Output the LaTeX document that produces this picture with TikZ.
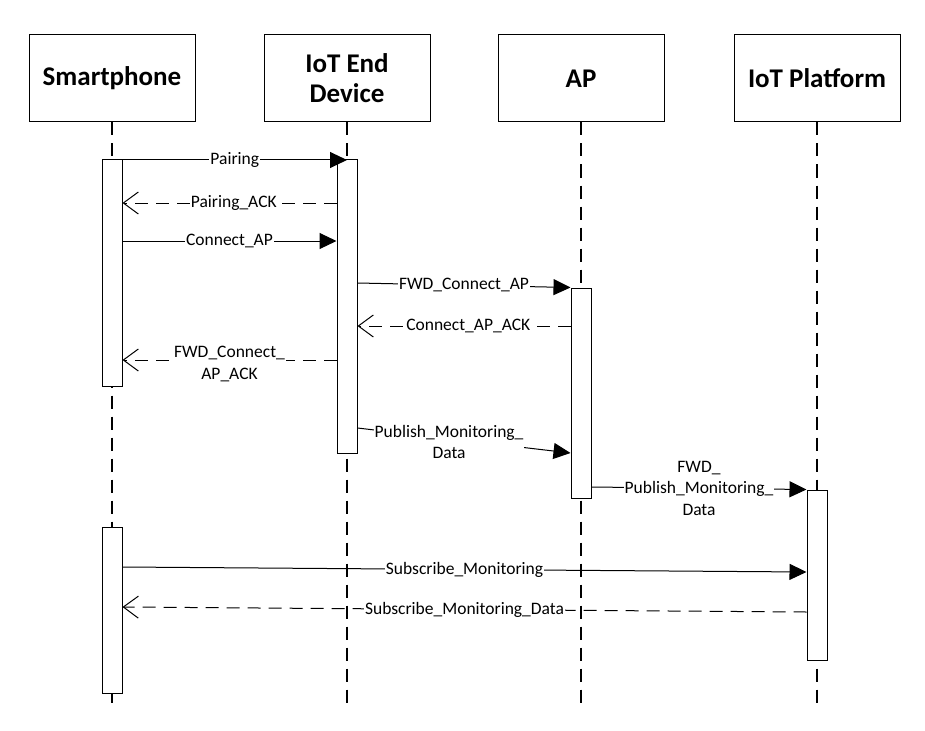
\documentclass[tikz,border=0pt]{standalone}
\usepackage{fontspec}
\setmainfont{Carlito}
\usepackage{tikz}
\usetikzlibrary{arrows.meta}

\begin{document}
\begin{tikzpicture}[
    x=1pt, y=-1pt, line width=1pt,
    actor/.style={draw, line width=1pt, minimum width=166pt, minimum height=87pt,
                  align=center, font=\fontsize{27}{30}\selectfont\bfseries},
    life/.style={dash pattern=on 13pt off 8pt, line width=1.2pt},
    bar/.style={draw, fill=white, minimum width=20pt, inner sep=0pt},
    lbl/.style={fill=white, inner sep=1pt, align=center,
                font=\fontsize{17.5}{21.5}\selectfont},
    msg/.style={-{Triangle[length=17pt, width=16pt]}},
    reply/.style={dash pattern=on 13pt off 8pt, -{Straight Barb[length=15pt, width=22pt]}}
  ]
  \useasboundingbox (0,0) rectangle (925,730);

  % lifeline heads
  \node[actor] (phone)  at (112,78.5) {Smartphone};
  \node[actor] (dev)    at (347,78.5) {IoT End\\Device};
  \node[actor] (ap)     at (581,78.5) {AP};
  \node[actor] (cloud)  at (817,78.5) {IoT Platform};

  \coordinate (phoneEnd) at (112,705);
  \coordinate (devEnd)   at (347,705);
  \coordinate (apEnd)    at (581,705);
  \coordinate (cloudEnd) at (817,705);

  \draw[life] (phone) -- (phoneEnd);
  \draw[life] (dev)   -- (devEnd);
  \draw[life] (ap)    -- (apEnd);
  \draw[life] (cloud) -- (cloudEnd);

  % activations
  \node[bar, minimum height=226pt] (barP) at (112,273)   {};
  \node[bar, minimum height=293pt] (barD) at (347,306.5) {};
  \node[bar, minimum height=210pt] (barA) at (581,393)   {};
  \node[bar, minimum height=170pt] (barC) at (817,575)   {};
  \node[bar, minimum height=166pt] (barQ) at (112,610)   {};

  % messages
  \draw[msg]   (barP.east |- 0,160) -- node[lbl] {Pairing} (dev.center |- 0,160);
  \draw[reply] (barD.west |- 0,203) -- node[lbl, pos=0.48] {Pairing\_ACK} (barP.east |- 0,203);
  \draw[msg]   (barP.east |- 0,241) -- node[lbl] {Connect\_AP} (barD.west |- 0,241);
  \draw[msg]   (barD.east |- 0,283) -- node[lbl] {FWD\_Connect\_AP} (barA.north west);
  \draw[reply] (barA.west |- 0,326) -- node[lbl, pos=0.48] {Connect\_AP\_ACK} (barD.east |- 0,326);
  \draw[reply] (barD.west |- 0,360) -- node[lbl, yshift=-4pt] {FWD\_Connect\_\\AP\_ACK} (barP.east |- 0,360);
  \draw[msg]   (barD.east |- 0,428) -- node[lbl, pos=0.43, yshift=-3pt] {Publish\_Monitoring\_\\Data} (barA.west |- 0,453);
  \draw[msg]   (barA.east |- 0,487) -- node[lbl] {FWD\_\\Publish\_Monitoring\_\\Data} (barC.north west);
  \draw[msg]   (barQ.east |- 0,567) -- node[lbl] {Subscribe\_Monitoring} (barC.west |- 0,572);
  \draw[reply] (barC.west |- 0,612) -- node[lbl] {Subscribe\_Monitoring\_Data} (barQ.east |- 0,607);
\end{tikzpicture}
\end{document}
